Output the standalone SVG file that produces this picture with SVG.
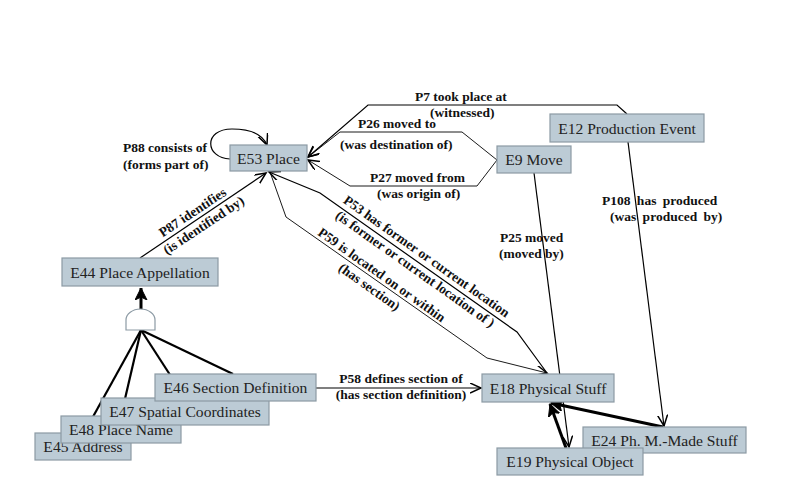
<svg xmlns="http://www.w3.org/2000/svg" width="800" height="500" viewBox="0 0 800 500">
<defs>
<style>
.node rect{fill:#bccbd5;stroke:#8c9aa4;stroke-width:1.2}
.node text{font-family:"Liberation Serif","Times New Roman",serif;font-size:15.6px;fill:#222;text-anchor:middle}
.lbl{font-family:"Liberation Serif","Times New Roman",serif;font-size:13.5px;font-weight:bold;fill:#111}
.c{fill:none;stroke:#000;stroke-width:1.2}
.c2{fill:none;stroke:#000;stroke-width:0.9}
.t{fill:none;stroke:#000;stroke-width:3}
.g{fill:none;stroke:#000;stroke-width:2.2}
</style>
<marker id="arr" markerUnits="userSpaceOnUse" markerWidth="14" markerHeight="12" refX="11" refY="5" orient="auto" viewBox="0 0 14 12">
<path d="M0,0 L11,5 L0,10" fill="none" stroke="#000" stroke-width="1.5"/>
</marker>
<marker id="arrT" markerUnits="userSpaceOnUse" markerWidth="16" markerHeight="14" refX="12" refY="6" orient="auto" viewBox="0 0 16 14">
<path d="M0,0 L12,6 L0,12 L3,6 z" fill="#000" stroke="#000" stroke-width="1"/>
</marker>
</defs>
<rect width="800" height="500" fill="#fff"/>

<g id="connectors">
<line class="c" x1="140" y1="258" x2="266" y2="173" marker-end="url(#arr)"/>
<polyline class="c" points="547,373 517,332 320,193 269,172" marker-end="url(#arr)"/>
<polyline class="c2" points="270,172 286,217 487,358 547,373" marker-end="url(#arr)"/>
<polyline class="c" points="627,114 617,105 368,105 308,157" marker-end="url(#arr)"/>
<polyline class="c2" points="497,160 462,132 340,132 308,157" marker-end="url(#arr)"/>
<polyline class="c2" points="497,160 477,186 350,186 308,160" marker-end="url(#arr)"/>
<path class="c" d="M230,159 C205,158 203,129 232,129 C252,129 263,135 267,145" marker-end="url(#arr)"/>
<line class="c" x1="534" y1="173" x2="569" y2="447" marker-end="url(#arr)"/>
<line class="c" x1="628" y1="142" x2="664" y2="426" marker-end="url(#arr)"/>
<line class="c" x1="316" y1="388" x2="481" y2="388" marker-end="url(#arr)"/>
<line class="t" x1="566" y1="448" x2="550" y2="404" marker-end="url(#arrT)"/>
<line class="t" x1="663" y1="427" x2="551" y2="403" marker-end="url(#arrT)"/>
<line class="t" x1="141" y1="310" x2="141" y2="288" marker-end="url(#arrT)"/>
<line class="g" x1="141" y1="330" x2="84" y2="433"/>
<line class="g" x1="141" y1="330" x2="121" y2="416"/>
<line class="g" x1="141" y1="330" x2="185" y2="398"/>
<line class="g" x1="141" y1="330" x2="233" y2="374"/>
<path d="M126,330 L126,320 A14.5,11 0 0 1 155,320 L155,330 Z" fill="#fff" stroke="#8c9aa4" stroke-width="1.2"/>

<text class="lbl" x="123" y="152">P88 consists of</text>
<text class="lbl" x="123" y="169">(forms part of)</text>
<text class="lbl" x="415" y="101">P7 took place at</text>
<text class="lbl" x="430" y="117">(witnessed)</text>
<text class="lbl" x="358" y="128">P26 moved to</text>
<text class="lbl" x="340" y="149">(was destination of)</text>
<text class="lbl" x="370" y="182">P27 moved from</text>
<text class="lbl" x="377" y="198">(was origin of)</text>
<text class="lbl" x="602" y="205" word-spacing="3">P108 has produced</text>
<text class="lbl" x="610" y="221" word-spacing="3">(was produced by)</text>
<text class="lbl" x="500" y="242">P25 moved</text>
<text class="lbl" x="499" y="258">(moved by)</text>
<text class="lbl" x="401" y="383" text-anchor="middle">P58 defines section of</text>
<text class="lbl" x="401" y="399" text-anchor="middle">(has section definition)</text>
<g transform="translate(195,216) rotate(-33.6)">
<text class="lbl" x="0" y="0" text-anchor="middle">P87 identifies</text>
<text class="lbl" x="2" y="17" text-anchor="middle">(is identified by)</text>
</g>
<g transform="translate(424,260) rotate(35.3)">
<text class="lbl" x="0" y="0" text-anchor="middle">P53 has former or current location</text>
<text class="lbl" x="-2" y="17" text-anchor="middle">(is former or current location of )</text>
<text class="lbl" x="-26" y="41" text-anchor="middle">P59 is located on or within</text>
<text class="lbl" x="-29" y="58" text-anchor="middle">(has section)</text>
</g>
</g>

<g id="E53" class="node"><rect x="230" y="145" width="77" height="26"/><text x="268.5" y="163.5">E53 Place</text></g>
<g id="E9" class="node"><rect x="497" y="146" width="74" height="27"/><text x="534" y="165">E9 Move</text></g>
<g id="E12" class="node"><rect x="550" y="114" width="154" height="28"/><text x="627" y="133.5">E12 Production Event</text></g>
<g id="E44" class="node"><rect x="62" y="258" width="156" height="28"/><text x="140" y="277.5">E44 Place Appellation</text></g>
<g id="E45" class="node"><rect x="35" y="433" width="96" height="27"/><text x="83" y="452">E45 Address</text></g>
<g id="E48" class="node"><rect x="61" y="416" width="120" height="27"/><text x="121" y="435">E48 Place Name</text></g>
<g id="E47" class="node"><rect x="101" y="398" width="168" height="27"/><text x="185" y="417">E47 Spatial Coordinates</text></g>
<g id="E46" class="node"><rect x="155" y="374" width="161" height="27"/><text x="235.5" y="393">E46 Section Definition</text></g>
<g id="E18" class="node"><rect x="482" y="374" width="132" height="28"/><text x="548" y="393.5">E18 Physical Stuff</text></g>
<g id="E24" class="node"><rect x="583" y="427" width="163" height="26"/><text x="664.5" y="445.5">E24 Ph. M.-Made Stuff</text></g>
<g id="E19" class="node"><rect x="497" y="448" width="146" height="27"/><text x="570" y="467">E19 Physical Object</text></g>
</svg>
